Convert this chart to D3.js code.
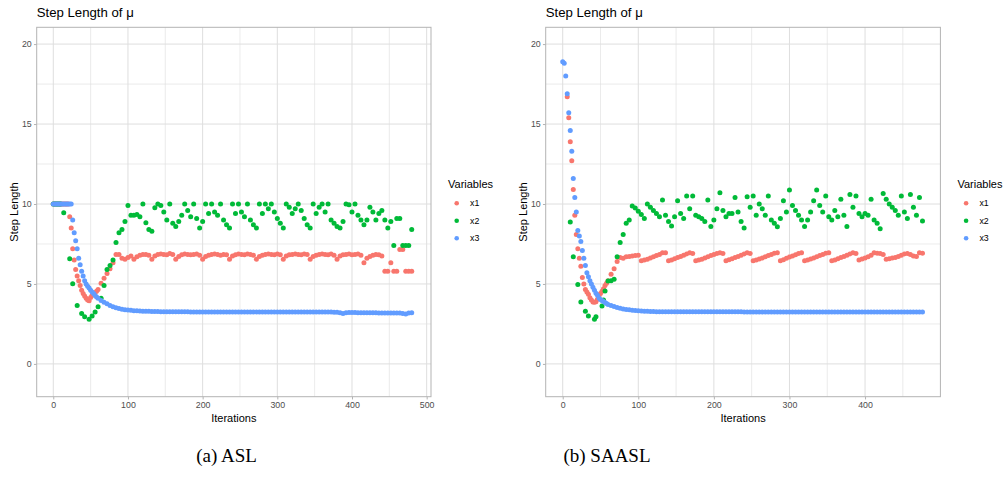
<!DOCTYPE html>
<html>
<head>
<meta charset="utf-8">
<script src="https://cdn.jsdelivr.net/npm/d3@7"></script>
<style>
  body { margin: 0; background: #fff; }
  svg { display: block; }
  text { font-family: "Liberation Sans", Arial, sans-serif; }
</style>
</head>
<body>
<svg id="chart" width="1003" height="483"></svg>
<script>
// iteration index: every 2 iterations up to 60, then every 4
var itersA = d3.range(0, 62, 2).concat(d3.range(64, 484, 4));
var itersB = d3.range(0, 62, 2).concat(d3.range(64, 480, 4));

// (a) ASL
var x1A = [10,10,10,10,10,10,10,10,10,10,10,
  9.2,8.5,7.2,6.5,5.9,5.5,5.2,4.9,4.6,4.4,4.25,4.1,4.0,3.95,4.15,4.3,4.4,4.45,4.55,4.66,
  5.05,5.35,5.65,5.95,6.33,6.85,6.85,6.6,6.55,6.65,6.75,6.55,6.7,6.8,6.85,
  6.85,6.8,6.55,6.75,6.85,6.88,6.85,6.82,6.9,6.85,
  6.55,6.72,6.82,6.88,6.85,6.82,6.85,6.88,6.8,6.55,
  6.72,6.8,6.85,6.88,6.85,6.8,6.85,6.82,6.55,6.75,
  6.82,6.88,6.85,6.82,6.88,6.85,6.8,6.55,6.72,6.8,
  6.85,6.88,6.85,6.82,6.88,6.82,6.55,6.75,6.82,6.85,
  6.88,6.85,6.82,6.88,6.85,6.55,6.72,6.8,6.85,6.88,
  6.85,6.82,6.88,6.8,6.55,6.75,6.82,6.85,6.88,6.82,
  6.85,6.88,6.8,6.33,6.6,6.72,6.8,6.85,6.82,
  6.75,5.8,5.8,6.33,5.8,5.8,7.16,7.16,5.8,5.8,5.8];
var x2A = [10,10,10,10,10,10,
  null,9.46,null,null,null,6.58,null,5.02,null,null,3.66,null,null,3.16,
  null,2.95,null,null,2.79,null,3.0,null,3.25,null,3.58,
  4.1,4.9,5.9,6.16,6.5,7.6,8.2,8.4,8.9,9.9,
  9.3,9.3,9.35,9.2,10,8.83,8.4,8.3,9.77,10,
  9.9,9.5,9.0,10,8.8,8.6,8.9,9.3,10,9.6,
  9.2,10,9.1,8.5,8.9,10,
  9.4,10,9.5,9.3,10,9.0,8.7,8.5,10,9.4,
  10,9.5,9.2,10,9.0,8.7,8.5,10,9.4,10,
  9.7,10,9.5,9.1,8.8,8.5,10,9.8,9.4,9.7,
  10,9.6,9.1,8.7,8.5,10,9.4,9.8,10,9.5,
  10,9.0,8.8,8.6,8.5,8.9,10,9.95,9.5,10,
  9.3,9.0,8.7,9.0,9.8,9.5,9.0,9.4,9.6,9.0,
  8.5,8.9,7.4,9.1,9.1,7.4,7.4,7.4,8.4];
var x3A = [10,10,10,10,10,10,10,10,10,10,10,10,10,
  9.0,8.2,7.7,7.2,6.6,6.2,5.8,5.5,5.2,5.0,4.85,4.75,4.6,4.5,4.4,4.28,4.18,4.1,
  3.97,3.86,3.76,3.66,3.57,3.51,3.46,3.42,3.39,3.37,3.35,3.33,3.32,3.31,3.3,
  3.29,3.29,3.28,3.28,3.28,3.27,3.27,3.27,3.27,3.26,3.26,3.26,3.26,3.26,3.26,3.25,3.25,3.25,3.25,3.25,
  3.25,3.25,3.25,3.25,3.25,3.25,3.25,3.25,3.25,3.25,
  3.25,3.25,3.25,3.25,3.25,3.25,3.25,3.25,3.25,3.25,
  3.24,3.24,3.24,3.24,3.24,3.24,3.24,3.24,3.24,3.24,
  3.24,3.24,3.24,3.24,3.24,3.24,3.24,3.24,3.24,3.24,
  3.24,3.24,3.24,3.23,3.23,
  3.2,3.15,3.2,3.22,
  3.21,3.21,3.2,3.2,3.2,3.2,3.2,3.2,3.2,3.19,3.19,3.19,3.19,3.19,3.18,3.18,
  3.18,3.15,3.12,3.18,3.2];

// (b) SAASL
var x1B = [null,null,null,16.7,15.4,13.9,12.7,10.9,9.3,8.1,
  7.2,6.6,6.1,5.4,5.0,4.65,4.5,4.35,4.14,4.0,
  3.87,3.85,3.88,4.05,4.24,4.4,4.55,4.7,4.9,5.04,5.2,
  5.6,5.95,6.4,6.65,6.6,6.7,6.72,6.75,6.78,6.8,
  6.45,6.5,6.55,6.62,6.7,6.78,6.85,6.95,6.95,
  6.45,6.5,6.58,6.65,6.72,6.8,6.88,6.95,6.9,
  6.45,6.5,6.55,6.62,6.7,6.78,6.85,6.9,6.95,6.9,
  6.45,6.52,6.58,6.65,6.72,6.8,6.88,6.95,6.9,
  6.45,6.5,6.56,6.62,6.7,6.78,6.85,6.92,6.95,
  6.45,6.52,6.6,6.68,6.75,6.82,6.9,6.95,
  6.45,6.5,6.56,6.62,6.7,6.78,6.85,6.92,6.95,
  6.45,6.5,6.58,6.65,6.72,6.8,6.88,6.95,6.9,
  6.5,6.56,6.62,6.7,6.8,6.95,6.92,6.9,6.85,
  6.55,6.58,6.62,6.66,6.72,6.8,6.88,6.9,6.85,6.75,6.72,6.95,6.92];
var x2B = [null,null,null,null,null,8.87,null,6.7,null,null,
  4.97,null,3.87,null,null,3.3,null,3.0,null,null,
  null,2.79,2.95,null,null,null,3.62,4.0,4.56,null,5.18,
  5.2,5.3,6.7,7.6,8.1,8.8,9.0,9.87,9.75,9.55,
  9.35,9.1,10.0,9.8,9.6,9.4,9.2,10.25,9.3,8.9,
  8.62,9.2,10.2,9.4,9.1,10.5,9.7,10.5,9.3,9.2,
  9.1,8.9,10.25,8.6,9.0,9.7,10.7,9.6,9.2,9.4,
  9.4,10.4,9.5,8.9,8.5,10.45,9.8,10.5,9.3,10.0,
  9.7,9.3,10.5,9.0,8.8,8.58,9.1,10.2,9.5,10.87,
  9.9,9.6,9.3,9.0,8.6,9.0,9.5,10.2,10.87,9.9,
  9.5,10.5,9.2,9.0,9.6,9.2,10.3,9.3,8.6,10.6,
  9.8,10.5,9.4,9.2,9.4,9.3,10.3,9.0,8.8,8.46,
  10.66,10.3,10.0,9.8,9.6,9.3,10.5,9.5,9.1,10.6,
  9.8,9.3,10.4,8.93];
var x3B = [18.9,18.8,18.0,16.9,15.7,14.6,13.3,11.6,10.4,9.5,
  8.35,8.0,7.65,7.1,6.6,6.15,5.7,5.45,5.2,5.0,
  4.8,4.6,4.42,4.3,4.12,4.03,3.96,3.9,3.84,3.78,3.72,
  3.65,3.59,3.53,3.48,3.44,3.41,3.38,3.36,3.34,3.32,3.31,3.3,3.29,3.28,3.28,
  3.27,3.27,3.27,3.27,3.27,3.27,3.27,3.27,3.27,3.27,
  3.26,3.26,3.26,3.26,3.26,3.26,3.26,3.26,3.26,3.26,
  3.26,3.26,3.26,3.26,3.26,3.26,3.26,3.26,3.26,
  3.25,3.25,3.25,3.25,3.25,3.25,3.25,3.25,3.25,3.25,
  3.25,3.25,3.25,3.25,3.25,3.25,3.25,3.25,3.25,3.25,
  3.25,3.25,3.25,3.25,3.25,3.25,3.25,3.25,3.25,3.25,
  3.25,3.25,3.25,3.25,3.25,3.25,3.25,3.25,3.25,3.25,
  3.25,3.25,3.25,3.25,3.25,3.25,3.25,3.25,3.25,3.25,
  3.25,3.25,3.25,3.25,3.25,3.25,3.25,3.25,3.25,3.25];

var varNames = ["x1", "x2", "x3"];
var colors = ["#F8766D", "#00BA38", "#619CFF"];
var yMajor = [0, 5, 10, 15, 20];
var yMinor = [2.5, 7.5, 12.5, 17.5];
var xMajorA = [0, 100, 200, 300, 400, 500];
var xMajorB = [0, 100, 200, 300, 400];
var xMinor = [50, 150, 250, 350, 450];

var panels = [
  { left: 36.7, right: 431, xDomain: [-22.2, 505.8], iters: itersA,
    series: [x1A, x2A, x3A], xMajor: xMajorA, caption: "(a) ASL", capX: 226.5 },
  { left: 545.7, right: 940.4, xDomain: [-22.5, 499.7], iters: itersB,
    series: [x1B, x2B, x3B], xMajor: xMajorB, caption: "(b) SAASL", capX: 607 }
];

var svg = d3.select("#chart");
var plotTop = 27.3, plotBottom = 396.7;

var y = d3.scaleLinear().domain([-2.05, 21.05]).range([plotBottom, plotTop]);

panels.forEach(function(p) {
  var x = d3.scaleLinear().domain(p.xDomain).range([p.left, p.right]);
  var g = svg.append("g");

  // grid lines (minor thinner)
  g.selectAll(".ymin").data(yMinor).enter().append("line")
    .attr("x1", p.left).attr("x2", p.right)
    .attr("y1", function(d) { return y(d); }).attr("y2", function(d) { return y(d); })
    .attr("stroke", "#dedede").attr("stroke-width", 0.6);
  g.selectAll(".xmin").data(xMinor).enter().append("line")
    .attr("y1", plotTop).attr("y2", plotBottom)
    .attr("x1", function(d) { return x(d); }).attr("x2", function(d) { return x(d); })
    .attr("stroke", "#dedede").attr("stroke-width", 0.6);
  g.selectAll(".ymaj").data(yMajor).enter().append("line")
    .attr("x1", p.left).attr("x2", p.right)
    .attr("y1", function(d) { return y(d); }).attr("y2", function(d) { return y(d); })
    .attr("stroke", "#dedede").attr("stroke-width", 1);
  g.selectAll(".xmaj").data(p.xMajor).enter().append("line")
    .attr("y1", plotTop).attr("y2", plotBottom)
    .attr("x1", function(d) { return x(d); }).attr("x2", function(d) { return x(d); })
    .attr("stroke", "#dedede").attr("stroke-width", 1);

  // points, x1 first so x3 ends on top
  p.series.forEach(function(vals, k) {
    var pts = p.iters.map(function(it, i) { return [it, vals[i]]; })
      .filter(function(d) { return d[1] != null; });
    g.append("g").selectAll("circle").data(pts).enter().append("circle")
      .attr("cx", function(d) { return x(d[0]); })
      .attr("cy", function(d) { return y(d[1]); })
      .attr("r", 2.5)
      .attr("fill", colors[k]);
  });

  // panel border
  g.append("rect")
    .attr("x", p.left).attr("y", plotTop)
    .attr("width", p.right - p.left).attr("height", plotBottom - plotTop)
    .attr("fill", "none").attr("stroke", "#b3b3b3").attr("stroke-width", 1);

  // axes
  var xAxis = g.append("g")
    .attr("transform", "translate(0," + plotBottom + ")")
    .call(d3.axisBottom(x).tickValues(p.xMajor).tickSize(2.75).tickPadding(2.2).tickFormat(d3.format("d")));
  var yAxis = g.append("g")
    .attr("transform", "translate(" + p.left + ",0)")
    .call(d3.axisLeft(y).tickValues(yMajor).tickSize(2.75).tickPadding(2.2));
  [xAxis, yAxis].forEach(function(a) {
    a.select(".domain").remove();
    a.selectAll(".tick line").attr("stroke", "#b3b3b3");
    a.selectAll(".tick text").attr("fill", "#4d4d4d")
      .style("font-size", "8.8px").style("font-family", "Liberation Sans, Arial, sans-serif");
  });

  // titles
  g.append("text")
    .attr("x", p.left).attr("y", 17)
    .style("font-size", "13.2px").attr("fill", "#000")
    .text("Step Length of \u03bc");
  g.append("text")
    .attr("x", (p.left + p.right) / 2).attr("y", 422)
    .attr("text-anchor", "middle")
    .style("font-size", "11px").attr("fill", "#000")
    .text("Iterations");
  g.append("text")
    .attr("transform", "translate(" + (p.left - 18.7) + "," + ((plotTop + plotBottom) / 2) + ") rotate(-90)")
    .attr("text-anchor", "middle")
    .style("font-size", "11px").attr("fill", "#000")
    .text("Step Length");

  // legend
  var lg = g.append("g").attr("transform", "translate(" + (p.right + 17) + ",0)");
  lg.append("text")
    .attr("x", 0).attr("y", 188.3)
    .style("font-size", "11px").attr("fill", "#000")
    .text("Variables");
  varNames.forEach(function(name, k) {
    var cy = 203.3 + k * 17.5;
    lg.append("circle").attr("cx", 8.7).attr("cy", cy).attr("r", 2.3).attr("fill", colors[k]);
    lg.append("text")
      .attr("x", 22).attr("y", cy).attr("dy", "0.35em")
      .style("font-size", "8.8px").attr("fill", "#000")
      .text(name);
  });

  // sub-figure caption
  svg.append("text")
    .attr("x", p.capX).attr("y", 462)
    .attr("text-anchor", "middle")
    .style("font-family", "Liberation Serif, Times New Roman, serif")
    .style("font-size", "19px").attr("fill", "#000")
    .text(p.caption);
});
</script>
</body>
</html>
